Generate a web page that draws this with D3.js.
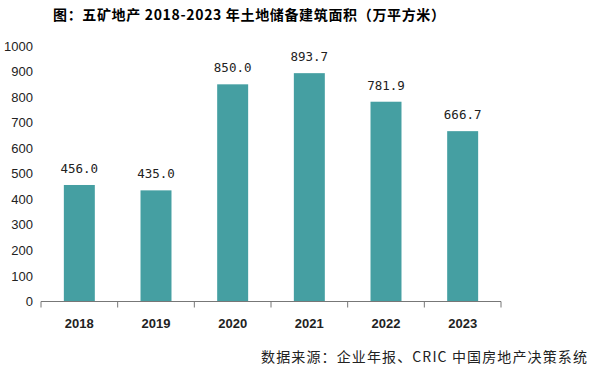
<!DOCTYPE html>
<html>
<head>
<meta charset="utf-8">
<script src="https://cdn.jsdelivr.net/npm/d3@7"></script>
<style>
  body { margin: 0; background: #fff; }
  svg { display: block; }
</style>
</head>
<body>
<svg id="chart" width="591" height="375"></svg>
<script>
var years = ['2018', '2019', '2020', '2021', '2022', '2023'];
var areas = [456.0, 435.0, 850.0, 893.7, 781.9, 666.7];
var yTicks = [0, 100, 200, 300, 400, 500, 600, 700, 800, 900, 1000];

var svg = d3.select('#chart');
var margin = {left: 41, right: 90, top: 46, bottom: 73.5};
var width = 591 - margin.left - margin.right;
var height = 375 - margin.top - margin.bottom;

var g = svg.append('g').attr('transform', 'translate(' + margin.left + ',' + margin.top + ')');

var x = d3.scaleBand().domain(years).range([0, width]).paddingInner(0.596).paddingOuter(0.298);
var y = d3.scaleLinear().domain([0, 1000]).range([height, 0]);

// y labels only, no axis line
g.selectAll('.ylab')
  .data(yTicks)
  .enter()
  .append('text')
  .attr('class', 'ylab')
  .attr('x', -8)
  .attr('y', function (d) { return y(d); })
  .attr('dy', '0.35em')
  .attr('text-anchor', 'end')
  .attr('font-family', 'Liberation Sans, Arial, sans-serif')
  .attr('font-size', 13)
  .attr('fill', '#222')
  .text(function (d) { return d; });

g.selectAll('rect')
  .data(areas)
  .enter()
  .append('rect')
  .attr('x', function (d, i) { return x(years[i]); })
  .attr('y', function (d) { return y(d); })
  .attr('width', x.bandwidth())
  .attr('height', function (d) { return height - y(d); })
  .attr('fill', '#459fa2');

g.selectAll('.vlab')
  .data(areas)
  .enter()
  .append('text')
  .attr('class', 'vlab')
  .attr('x', function (d, i) { return x(years[i]) + x.bandwidth() / 2; })
  .attr('y', function (d) { return y(d) - 12; })
  .attr('text-anchor', 'middle')
  .attr('font-family', 'DejaVu Sans Mono, monospace')
  .attr('font-size', 12.5)
  .attr('fill', '#222')
  .text(function (d) { return d.toFixed(1); });

// x axis with ticks between categories
var step = x.step();
var x0 = x(years[0]) - x.paddingOuter() * step;
var bounds = d3.range(years.length + 1).map(function (i) { return x0 + i * step; });

g.append('line')
  .attr('x1', 0).attr('x2', width)
  .attr('y1', height).attr('y2', height)
  .attr('stroke', '#777').attr('stroke-width', 1);

g.selectAll('.xtick')
  .data(bounds)
  .enter()
  .append('line')
  .attr('class', 'xtick')
  .attr('x1', function (d) { return d; })
  .attr('x2', function (d) { return d; })
  .attr('y1', height)
  .attr('y2', height + 6)
  .attr('stroke', '#777');

g.selectAll('.xlab')
  .data(years)
  .enter()
  .append('text')
  .attr('class', 'xlab')
  .attr('x', function (d) { return x(d) + x.bandwidth() / 2; })
  .attr('y', height + 26)
  .attr('text-anchor', 'middle')
  .attr('font-family', 'Liberation Sans, Arial, sans-serif')
  .attr('font-weight', 'bold')
  .attr('font-size', 13)
  .attr('fill', '#222')
  .text(function (d) { return d; });

svg.append('text')
  .attr('x', 53)
  .attr('y', 20)
  .attr('font-family', 'Noto Sans CJK SC, sans-serif')
  .attr('font-weight', 'bold')
  .attr('font-size', 14)
  .attr('fill', '#000')
  .attr('textLength', 392)
  .attr('lengthAdjust', 'spacing')
  .text('图：五矿地产 2018-2023 年土地储备建筑面积（万平方米）');

svg.append('text')
  .attr('x', 261)
  .attr('y', 362)
  .attr('font-family', 'Noto Sans CJK SC, sans-serif')
  .attr('font-size', 14)
  .attr('fill', '#222')
  .attr('textLength', 326)
  .attr('lengthAdjust', 'spacing')
  .text('数据来源：企业年报、CRIC 中国房地产决策系统');
</script>
</body>
</html>
